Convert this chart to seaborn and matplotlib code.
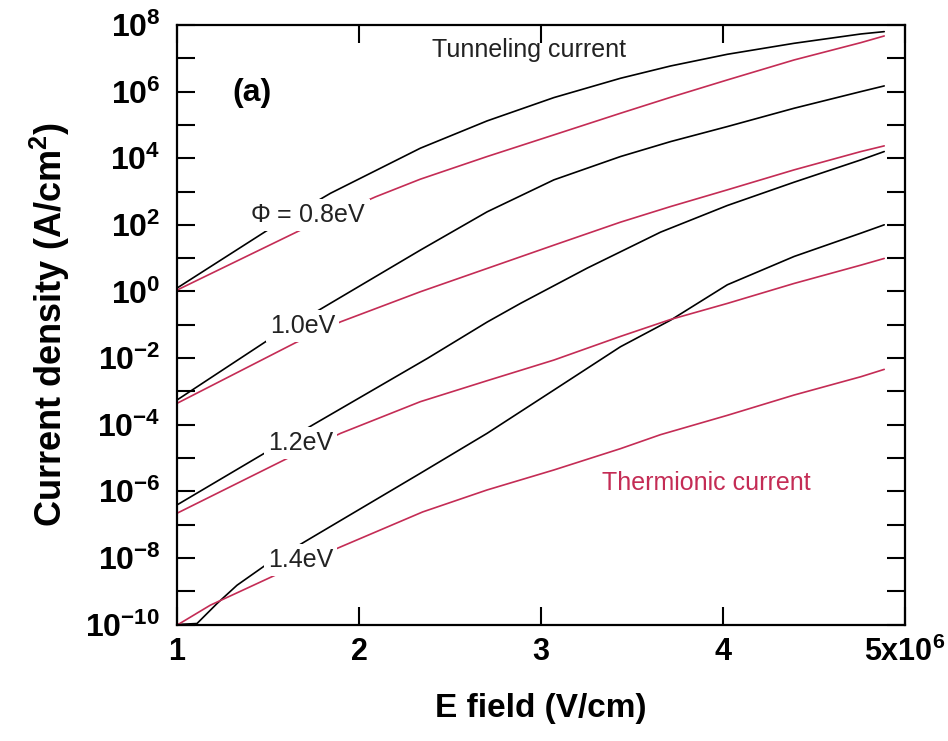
import numpy as np
import pandas as pd
import matplotlib
matplotlib.use('Agg')
import matplotlib.pyplot as plt
import matplotlib.ticker as mticker
import seaborn as sns

# E field in units of 1e6 V/cm, current density as log10(A/cm^2)
# tunneling (black) curves
e_tun_08 = [1.0, 1.505, 1.843, 2.337, 2.704, 3.071, 3.437, 3.713, 4.024, 4.391, 4.758, 4.886]
j_tun_08 = [0.10, 1.865, 2.946, 4.30, 5.12, 5.82, 6.40, 6.77, 7.12, 7.45, 7.73, 7.80]

e_tun_10 = [1.0, 1.495, 1.78, 2.337, 2.704, 3.071, 3.437, 3.713, 4.024, 4.391, 4.758, 4.886]
j_tun_10 = [-3.26, -1.48, -0.56, 1.24, 2.39, 3.35, 4.05, 4.50, 4.95, 5.50, 6.00, 6.17]

e_tun_12 = [1.0, 1.486, 1.761, 2.376, 2.704, 2.887, 3.254, 3.657, 4.024, 4.391, 4.758, 4.886]
j_tun_12 = [-6.41, -4.84, -3.96, -2.01, -0.92, -0.36, 0.70, 1.78, 2.58, 3.28, 3.95, 4.20]

e_tun_14 = [1.0, 1.11, 1.22, 1.33, 1.486, 1.725, 2.337, 2.704, 3.071, 3.437, 3.713, 4.024, 4.391, 4.758, 4.886]
j_tun_14 = [-10.0, -9.97, -9.37, -8.82, -8.22, -7.44, -5.46, -4.26, -2.96, -1.66, -0.86, 0.20, 1.05, 1.75, 2.00]

# thermionic (red) curves
e_th_08 = [1.0, 1.688, 2.091, 2.337, 2.704, 3.071, 3.437, 3.713, 4.024, 4.391, 4.758, 4.886]
j_th_08 = [0.04, 1.865, 2.84, 3.37, 4.05, 4.70, 5.35, 5.83, 6.35, 6.95, 7.47, 7.67]

e_th_10 = [1.0, 1.651, 1.90, 2.337, 2.704, 3.071, 3.437, 3.713, 4.024, 4.391, 4.758, 4.886]
j_th_10 = [-3.36, -1.54, -0.91, -0.01, 0.69, 1.39, 2.08, 2.55, 3.05, 3.65, 4.20, 4.37]

e_th_12 = [1.0, 1.633, 1.899, 2.337, 2.704, 3.071, 3.437, 3.713, 4.024, 4.391, 4.758, 4.886]
j_th_12 = [-6.66, -4.94, -4.26, -3.31, -2.68, -2.06, -1.35, -0.84, -0.36, 0.24, 0.79, 0.99]

e_th_14 = [1.0, 1.183, 1.559, 1.899, 2.35, 2.704, 3.071, 3.437, 3.657, 4.024, 4.391, 4.758, 4.886]
j_th_14 = [-10.02, -9.42, -8.47, -7.67, -6.62, -5.96, -5.36, -4.72, -4.30, -3.72, -3.11, -2.56, -2.34]

barrier_labels = [r'$\Phi$ = 0.8eV', '1.0eV', '1.2eV', '1.4eV']

x_ticks = [1, 2, 3, 4, 5]
x_ticklabels = ['1', '2', '3', '4', r'5x10$^{\mathbf{6}}$']
y_major = list(range(-10, 9, 2))
y_minor = list(range(-9, 8, 2))

RED = '#c42c55'

curves = [
    ('tunnel', '0.8', e_tun_08, j_tun_08), ('tunnel', '1.0', e_tun_10, j_tun_10),
    ('tunnel', '1.2', e_tun_12, j_tun_12), ('tunnel', '1.4', e_tun_14, j_tun_14),
    ('thermionic', '0.8', e_th_08, j_th_08), ('thermionic', '1.0', e_th_10, j_th_10),
    ('thermionic', '1.2', e_th_12, j_th_12), ('thermionic', '1.4', e_th_14, j_th_14),
]
rows = []
for kind, phi, e, j in curves:
    for xe, lj in zip(e, j):
        rows.append({'E': xe, 'J': 10.0 ** lj, 'kind': kind, 'curve': kind + phi})
df = pd.DataFrame(rows)

sns.set_theme(style='ticks')
plt.rcParams['font.family'] = ['Liberation Sans', 'DejaVu Sans']
plt.rcParams['mathtext.fontset'] = 'custom'
plt.rcParams['mathtext.rm'] = 'Liberation Sans'
plt.rcParams['mathtext.bf'] = 'Liberation Sans:bold'
plt.rcParams['mathtext.it'] = 'Liberation Sans:italic'
for key in ['text.color', 'axes.labelcolor', 'xtick.color', 'ytick.color', 'axes.edgecolor']:
    plt.rcParams[key] = 'black'

fig, ax = plt.subplots(figsize=(9.48, 7.41), dpi=100)
fig.subplots_adjust(left=0.1867, right=0.9546, top=0.9663, bottom=0.1572)

sns.lineplot(data=df, x='E', y='J', hue='kind', units='curve', estimator=None,
             sort=False, palette={'tunnel': 'black', 'thermionic': RED},
             linewidth=1.2, legend=False, ax=ax)

ax.set_yscale('log')
ax.set_xlim(1, 5)
ax.set_ylim(1e-10, 1e8)

ax.xaxis.set_major_locator(mticker.FixedLocator(x_ticks))
ax.xaxis.set_major_formatter(mticker.FixedFormatter(x_ticklabels))
ax.yaxis.set_major_locator(mticker.FixedLocator([10.0 ** p for p in y_major]))
ax.yaxis.set_major_formatter(mticker.FixedFormatter([r'$\mathbf{10^{%d}}$' % p for p in y_major]))
ax.yaxis.set_minor_locator(mticker.FixedLocator([10.0 ** p for p in y_minor]))
ax.yaxis.set_minor_formatter(mticker.NullFormatter())

ax.tick_params(which='both', direction='in', top=True, right=True,
               length=13, width=1.5, color='black')
ax.tick_params(axis='x', which='major', labelsize=22, pad=9)
ax.tick_params(axis='y', which='major', labelsize=23, pad=12)
for lab in ax.get_xticklabels() + ax.get_yticklabels():
    lab.set_fontweight('bold')
for sp in ax.spines.values():
    sp.set_linewidth(1.6)

ax.set_xlabel('E field (V/cm)', fontsize=24, fontweight='bold', labelpad=18)
ax.set_ylabel(r'Current density (A/cm$^{\mathbf{2}}$)', fontsize=26, fontweight='bold', labelpad=10)

# labels sit on top of the curves and break them, as in the original
label_pos = [(1.40, 2.09), (1.51, -1.25), (1.50, -4.76), (1.50, -8.27)]
for txt, (lx, ly) in zip(barrier_labels, label_pos):
    ax.text(lx, 10.0 ** ly, txt, fontsize=18, color='#222222', ha='left', va='baseline',
            zorder=5, bbox=dict(facecolor='white', edgecolor='none', pad=3))

ax.text(2.40, 10.0 ** 7.04, 'Tunneling current', fontsize=18, color='#222222',
        ha='left', va='baseline')
ax.text(3.337, 10.0 ** -5.96, 'Thermionic current', fontsize=18, color=RED,
        ha='left', va='baseline')
ax.text(1.41, 10.0 ** 5.96, '(a)', fontsize=23, fontweight='bold', ha='center', va='center')

fig.savefig('out.png', dpi=100)
